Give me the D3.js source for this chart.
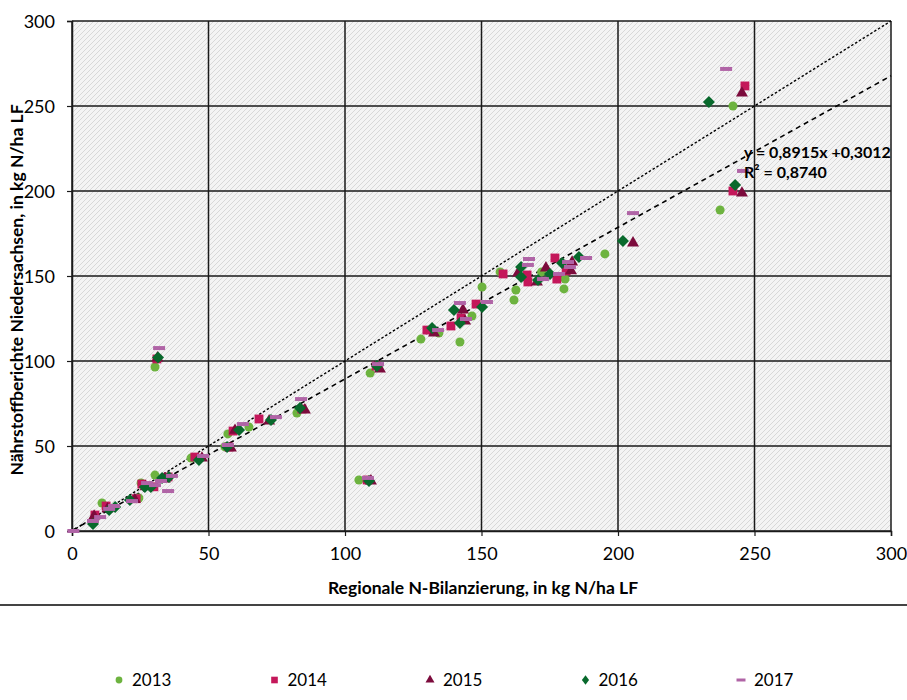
<!DOCTYPE html>
<html>
<head>
<meta charset="utf-8">
<script src="https://cdn.jsdelivr.net/npm/d3@7"></script>
<style>
  body { margin: 0; background: #fff; }
  svg text { font-family: Lato, "Open Sans", sans-serif; fill: #000; }
  .tick-label { font-size: 18px; }
  .title { font-size: 17.5px; font-weight: bold; }
  .eq { font-size: 16px; font-weight: bold; }
  .legend-label { font-size: 17px; }
</style>
</head>
<body>
<svg width="907" height="700"></svg>
<script>
// values: [regional N-balance, nutrient report]
var years = ["2013", "2014", "2015", "2016", "2017"];

var data2013 = [[11,16.5],[24.5,19.4],[25.3,28.2],[30.4,32.9],[30.4,96.5],[43.6,42.9],[56,49.5],
    [57.1,57.1],[64.8,61.2],[82.4,69.4],[105.1,30],[109.2,92.9],[127.8,112.9],[134.4,116.5],
    [142.1,111.2],[146.5,126.5],[150.2,143.5],[156.8,152.4],[162.6,141.8],[161.9,135.9],
    [172,152.4],[180.6,148.2],[180.2,142.4],[195.2,163],[237.4,188.8],[242.1,250]];
var data2014 = [[8.4,9.4],[12.5,14.7],[23.5,19],[25.6,27.6],[30,26],[35.2,31.8],[31.1,101.2],
    [45,43.5],[57.5,49.4],[59,58.8],[68.5,65.9],[84.2,71.8],[108.1,30],[111.4,97],[130,118.2],
    [138.8,120.6],[142.5,125.3],[148,133.5],[157.9,151.2],[166.7,150.6],[167,146.5],
    [176.9,160.6],[177.6,148.2],[181,153],[242.1,200],[246.5,261.8]];
var data2015 = [[8.1,8.8],[13,13],[23,18.5],[27,26],[34,30.6],[31.3,101.8],[47.6,42.9],[58.2,48.8],
    [59.7,59.2],[72.2,64.7],[85.3,71.2],[109.5,29.4],[112.8,95.3],[132.6,116.5],[143.2,130],
    [144,123.5],[163.4,151.8],[170.3,146.5],[173.6,154.7],[182.8,153],[183.2,158.2],
    [205.5,169.4],[245.4,198.8],[245.4,257.6]];
var data2016 = [[7.7,4.1],[13.6,12.4],[15.8,14.1],[21.2,18.2],[26.7,25.9],[28.9,25.9],[33,31.2],
    [35.5,31.8],[31.5,102.1],[46.5,41.8],[56.8,49.4],[61.2,59.4],[72.9,65.3],[83.5,72.4],
    [108.8,29.4],[111.7,97],[131.9,119.4],[139.9,130],[142.1,122.4],[150.2,131.8],[164.5,155.3],
    [164.5,149.4],[170.7,147.6],[175.1,151.2],[179.5,157.6],[185.7,161.2],[201.8,170.6],
    [233.3,252.4],[242.9,203.5]];
var data2017 = [[0.5,0],[7.7,5.9],[10.3,8.2],[13.6,13],[15.4,14.7],[22,17.6],[27.5,28.2],[30.4,27],
    [32.6,29.4],[35.2,23.5],[36.6,32.4],[31.9,107.6],[48,44.1],[57.1,50.6],[62.6,62.9],[74.7,67],
    [83.9,77.6],[108.4,31.2],[112.1,98.2],[134.1,118.2],[142.1,134.1],[144.3,124.7],[152,134.7],
    [167.4,160],[167,156.5],[172.5,148.2],[178.4,151.2],[181.7,158.2],[182.4,155.3],
    [188.3,160.6],[205.5,187],[239.6,271.8],[245.8,211.8]];

var axisTicks = [0, 50, 100, 150, 200, 250, 300];
var slope = 0.8915, intercept = 0.3012;
var eqLabel = "y = 0,8915x +0,3012";
var r2Label = "R² = 0,8740";

var series = [
    {year: years[0], values: data2013, color: "#6db33f", shape: "circle"},
    {year: years[1], values: data2014, color: "#c4175a", shape: "square"},
    {year: years[2], values: data2015, color: "#7c0b3c", shape: "triangle"},
    {year: years[3], values: data2016, color: "#08692c", shape: "diamond"},
    {year: years[4], values: data2017, color: "#b064a6", shape: "dash"}
];

var symbolPath = function(shape)
{
    if (shape == "circle") return d3.symbol(d3.symbolCircle, 64)();
    if (shape == "square") return d3.symbol(d3.symbolSquare, 78)();
    if (shape == "triangle") return d3.symbol(d3.symbolTriangle, 62)();
    if (shape == "diamond") return "M0,-6L6,0L0,6L-6,0Z";
    return "M-6,-2H6V2H-6Z";
}

var svg = d3.select("svg");
var margins = {left: 72, top: 21, right: 16, bottom: 169};
var plot = {width: 891 - 72, height: 531 - 21};

var xScale = d3.scaleLinear().domain([0, 300]).range([margins.left, margins.left + plot.width]);
var yScale = d3.scaleLinear().domain([0, 300]).range([margins.top + plot.height, margins.top]);

// hatched plot background
var pattern = svg.append("defs").append("pattern")
    .attr("id", "hatch")
    .attr("patternUnits", "userSpaceOnUse")
    .attr("width", 5).attr("height", 5);
pattern.append("rect").attr("width", 5).attr("height", 5).attr("fill", "#f4f4f4");
pattern.append("path")
    .attr("d", "M-1,1L1,-1M0,5L5,0M4,6L6,4")
    .attr("stroke", "#d8d8d8").attr("stroke-width", 1);

svg.append("rect")
    .attr("x", xScale(0)).attr("y", yScale(300))
    .attr("width", plot.width).attr("height", plot.height)
    .attr("fill", "url(#hatch)");

// major grid
var grid = svg.append("g").attr("stroke", "#1a1a1a").attr("stroke-width", 1.5);
grid.selectAll(".gx").data(axisTicks).enter().append("line")
    .attr("x1", function(d) { return xScale(d); }).attr("x2", function(d) { return xScale(d); })
    .attr("y1", yScale(0)).attr("y2", yScale(300));
grid.selectAll(".gy").data(axisTicks).enter().append("line")
    .attr("x1", xScale(0)).attr("x2", xScale(300))
    .attr("y1", function(d) { return yScale(d); }).attr("y2", function(d) { return yScale(d); });

// axes
var xAxis = d3.axisBottom(xScale).tickValues(axisTicks).tickSize(5).tickPadding(11);
var yAxis = d3.axisLeft(yScale).tickValues(axisTicks).tickSize(5).tickPadding(12);
var gx = svg.append("g").attr("transform", "translate(0," + yScale(0) + ")").call(xAxis);
var gy = svg.append("g").attr("transform", "translate(" + xScale(0) + ",0)").call(yAxis);
[gx, gy].forEach(function(g)
{
    g.select(".domain").attr("stroke", "#1a1a1a").attr("stroke-width", 1.5);
    g.selectAll(".tick line").attr("stroke", "#1a1a1a").attr("stroke-width", 1.2);
    g.selectAll(".tick text").attr("class", "tick-label").attr("font-size", null).attr("font-family", null);
});
gy.selectAll(".tick text").attr("dy", "0.35em");

// reference lines: 1:1 and regression
var lineGen = d3.line()
    .x(function(d) { return xScale(d[0]); })
    .y(function(d) { return yScale(d[1]); });
svg.append("path")
    .datum([[0, 0], [300, 300]])
    .attr("d", lineGen)
    .attr("fill", "none").attr("stroke", "#000").attr("stroke-width", 1.4)
    .attr("stroke-dasharray", "2.5,2");
svg.append("path")
    .datum([[0, intercept], [300, slope * 300 + intercept]])
    .attr("d", lineGen)
    .attr("fill", "none").attr("stroke", "#000").attr("stroke-width", 1.6)
    .attr("stroke-dasharray", "5,4");

// points
var groups = svg.append("g").selectAll("g")
    .data(series).enter().append("g")
    .attr("fill", function(s) { return s.color; });
groups.selectAll("path")
    .data(function(s) { return s.values.map(function(v) { return {v: v, shape: s.shape}; }); })
    .enter().append("path")
    .attr("d", function(d) { return symbolPath(d.shape); })
    .attr("transform", function(d)
    {
        return "translate(" + xScale(d.v[0]) + "," + yScale(d.v[1]) + ")";
    });

// regression equation
svg.append("text").attr("class", "eq").attr("x", 744).attr("y", 158).text(eqLabel);
svg.append("text").attr("class", "eq").attr("x", 744).attr("y", 178).text(r2Label);

// axis titles
svg.append("text").attr("class", "title")
    .attr("text-anchor", "middle")
    .attr("x", 483).attr("y", 594)
    .text("Regionale  N-Bilanzierung, in kg N/ha LF");
svg.append("g")
    .attr("transform", "translate(23,290)")
    .append("text").attr("class", "title")
    .attr("text-anchor", "middle")
    .attr("transform", "rotate(-90)")
    .text("Nährstoffberichte Niedersachsen, in kg N/ha LF");

// separator
svg.append("line")
    .attr("x1", 0).attr("x2", 907).attr("y1", 605).attr("y2", 605)
    .attr("stroke", "#444").attr("stroke-width", 2);

// legend
var legend = svg.append("g").selectAll("g")
    .data(series).enter().append("g")
    .attr("transform", function(s, i) { return "translate(" + (119 + i * 155.5) + ",680)"; });
legend.append("path")
    .attr("d", function(s) { return symbolPath(s.shape); })
    .attr("fill", function(s) { return s.color; })
    .attr("transform", function(s) { return s.shape == "diamond" ? "scale(0.6,0.8)" : "scale(0.75)"; });
legend.append("text").attr("class", "legend-label")
    .attr("x", 13).attr("dy", "0.35em")
    .text(function(s) { return s.year; });
</script>
</body>
</html>
